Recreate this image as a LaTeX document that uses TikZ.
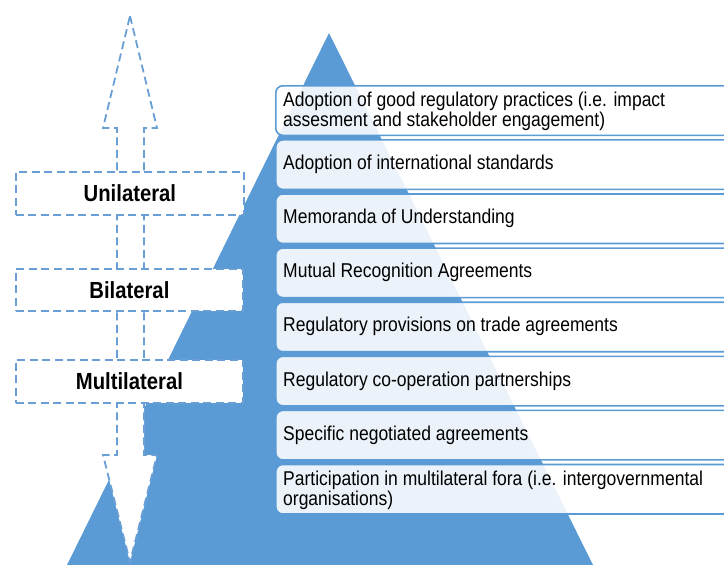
\documentclass[tikz,border=0pt]{standalone}
\usepackage{fontspec}
\setmainfont{Liberation Sans}
\definecolor{tblue}{HTML}{5B9BD5}
\definecolor{dblue}{HTML}{6A9FD6}
\newcommand{\sqz}[1]{\scalebox{0.875}[1]{#1}}
\newcommand{\sqzb}[1]{\scalebox{0.87}[1]{#1}}
\begin{document}
\begin{tikzpicture}[x=1pt,y=-1pt,
  rbox/.style={draw=tblue, line width=1.6pt, rounded corners=7pt, fill=white,
    fill opacity=0.88, draw opacity=1, inner sep=0pt, anchor=north west,
    minimum width=480pt, minimum height=49.5pt},
  rtext/.style={anchor=base west, inner sep=0pt, text=black,
    font=\fontsize{20}{20.5}\selectfont},
  dashline/.style={draw=dblue, line width=1.8pt, dash pattern=on 8pt off 4.5pt},
  lbox/.style={dashline, fill=white, inner sep=0pt, anchor=north west,
    minimum width=228pt, text=black, font=\fontsize{23.3}{24}\selectfont\bfseries}
]
\useasboundingbox (0,0) rectangle (724,565);
\clip (0,0) rectangle (724,565);
% pyramid
\fill[tblue] (329,33) -- (593,565) -- (67,565) -- cycle;
% right boxes
\node[rbox] (b1) at (275,85.0) {};
\node[rbox] (b2) at (275,139.1) {};
\node[rbox] (b3) at (275,193.2) {};
\node[rbox] (b4) at (275,247.3) {};
\node[rbox] (b5) at (275,301.4) {};
\node[rbox] (b6) at (275,355.5) {};
\node[rbox] (b7) at (275,409.6) {};
\node[rbox] (b8) at (275,463.7) {};
\node[rtext] (t1a) at (283,106) {\sqz{Adoption of good regulatory practices (i.e. impact}};
\node[rtext] (t1b) at (283,126.5) {\sqz{assesment and stakeholder engagement)}};
\node[rtext] (t2) at (283,169.6) {\sqz{Adoption of international standards}};
\node[rtext] (t3) at (283,223.7) {\sqz{Memoranda of Understanding}};
\node[rtext] (t4) at (283,277.8) {\sqz{Mutual Recognition Agreements}};
\node[rtext] (t5) at (283,331.9) {\sqz{Regulatory provisions on trade agreements}};
\node[rtext] (t6) at (283,386.0) {\sqz{Regulatory co-operation partnerships}};
\node[rtext] (t7) at (283,440.1) {\sqz{Specific negotiated agreements}};
\node[rtext] (t8a) at (283,485) {\sqz{Participation in multilateral fora (i.e. intergovernmental}};
\node[rtext] (t8b) at (283,505.5) {\sqz{organisations)}};
% double arrow
\path[dashline, fill=white] (130,16) -- (157,128) -- (144,128) -- (144,455) -- (157,455)
  -- (130,562) -- (103,455) -- (117,455) -- (117,128) -- (103,128) -- cycle;
% left boxes
\node[lbox, minimum height=43pt] (uni) at (15,171) {\sqzb{Unilateral}};
\node[lbox, minimum height=42pt, minimum width=227pt] (bi) at (15,268) {\sqzb{Bilateral}};
\node[lbox, minimum height=43pt, minimum width=227pt] (multi) at (15,359) {\sqzb{Multilateral}};
\end{tikzpicture}
\end{document}
